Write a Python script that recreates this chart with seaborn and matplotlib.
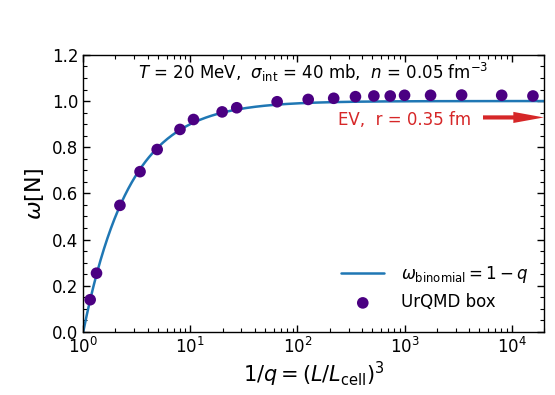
import numpy as np
import pandas as pd
import matplotlib
matplotlib.use("Agg")
import matplotlib.pyplot as plt
import seaborn as sns

# UrQMD box data: 1/q and omega[N]
inv_q = [1.16, 1.33, 2.2, 3.39, 4.9, 8.0, 10.7, 19.8, 27.1, 64.6, 126, 218, 348,
         517, 735, 1000, 1750, 3410, 8070, 15800]
omega = [0.139, 0.254, 0.548, 0.694, 0.790, 0.877, 0.920, 0.953, 0.971, 0.997,
         1.007, 1.012, 1.019, 1.022, 1.022, 1.025, 1.025, 1.026, 1.025, 1.022]

x_lim = (1, 2e4)
y_lim = (0, 1.2)
y_ticks = [0.0, 0.2, 0.4, 0.6, 0.8, 1.0, 1.2]
y_tick_labels = ["0.0", "0.2", "0.4", "0.6", "0.8", "1.0", "1.2"]

ev_arrow_x = [5400, 2e4]
ev_arrow_y = 0.929

sns.set_style("ticks")
plt.rcParams["font.family"] = ["DejaVu Sans"]
plt.rcParams["mathtext.fontset"] = "dejavusans"
plt.rcParams["xtick.direction"] = "in"
plt.rcParams["ytick.direction"] = "in"
for k in ["text.color", "axes.labelcolor", "xtick.color", "ytick.color",
          "axes.edgecolor", "xtick.labelcolor", "ytick.labelcolor"]:
    plt.rcParams[k] = "black"

fig = plt.figure(figsize=(5.55, 3.95), dpi=100)
ax = fig.add_axes([0.150, 0.160, 0.830, 0.701])

# binomial baseline curve omega = 1 - q
xc = np.geomspace(x_lim[0], x_lim[1], 400)
curve = pd.DataFrame({"x": xc, "y": 1 - 1 / xc})
sns.lineplot(data=curve, x="x", y="y", ax=ax, color="#1f77b4", linewidth=1.8,
             label=r"$\omega_{\rm binomial} = 1 - q$")

pts = pd.DataFrame({"x": inv_q, "y": omega})
sns.scatterplot(data=pts, x="x", y="y", ax=ax, color="#4b0082", s=70,
                edgecolor="none", label="UrQMD box", zorder=3)

ax.set_xscale("log")
ax.set_xlim(*x_lim)
ax.set_ylim(*y_lim)
ax.set_yticks(y_ticks)
ax.set_yticklabels(y_tick_labels)
ax.yaxis.set_minor_locator(matplotlib.ticker.MultipleLocator(0.05))
ax.xaxis.set_minor_locator(matplotlib.ticker.LogLocator(base=10, subs=np.arange(2, 10), numticks=20))
ax.tick_params(which="both", top=True, right=True, direction="in", labelsize=12,
               colors="black")
ax.tick_params(which="major", length=5, width=1)
ax.tick_params(which="minor", length=3, width=0.8)
for sp in ax.spines.values():
    sp.set_linewidth(1.0)
    sp.set_color("black")

ax.set_xlabel(r"$1/q = (L/L_{\rm cell})^3$", fontsize=15, labelpad=2)
ax.set_ylabel(r"$\omega$[N]", fontsize=16, labelpad=4)

ax.text(0.5, 0.935,
        r"$T$ = 20 MeV,  $\sigma_{\rm int}$ = 40 mb,  $n$ = 0.05 fm$^{-3}$",
        transform=ax.transAxes, ha="center", va="center", fontsize=12)

ax.text(0.553, 0.765, "EV,  r = 0.35 fm", transform=ax.transAxes,
        ha="left", va="center", fontsize=12, color="#d62728")
ax.annotate("", xy=(ev_arrow_x[1], ev_arrow_y), xytext=(ev_arrow_x[0], ev_arrow_y),
            xycoords="data",
            arrowprops=dict(width=3, headwidth=8, headlength=22,
                            facecolor="#d62728", edgecolor="#d62728", lw=0,
                            shrink=0.0))

leg = ax.legend(loc="lower right", frameon=False, fontsize=12,
                bbox_to_anchor=(1.0, 0.02), handlelength=2.6, handletextpad=1.0)

fig.savefig("out.png", dpi=100)
